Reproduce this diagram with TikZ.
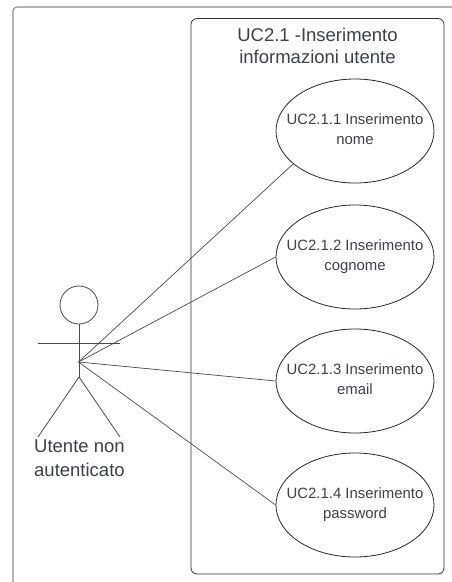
\documentclass[tikz,border=0pt]{standalone}
\usepackage{fontspec}
\setmainfont{Liberation Sans}
\usetikzlibrary{shapes.geometric}
\definecolor{ink}{HTML}{3A414A}
\definecolor{edge}{HTML}{4A4A4A}
\definecolor{frameg}{HTML}{8C8C8C}
\newcommand{\liftup}{\rule[-4pt]{0pt}{0pt}}
\tikzset{
  uc/.style={draw=black!85,line width=0.8pt,ellipse,minimum width=158pt,minimum height=104pt,inner sep=-30pt,text=ink,align=center,font=\fontsize{14.9}{20.5}\selectfont},
  link/.style={draw=edge,line width=0.7pt},
  stick/.style={draw=edge,line width=0.8pt},
}
\begin{document}
\begin{tikzpicture}[x=1pt,y=-1pt]
\useasboundingbox (0,0) rectangle (452,582);
\draw[frameg,line width=1.1pt,rounded corners=4pt] (13,582) -- (13,7) -- (452,7);
\draw[black!80,line width=0.8pt,rounded corners=6pt] (191,18.5) rectangle (444,574);
\node[text=ink,align=center,font=\fontsize{18.5}{22.5}\selectfont] (title) at (317.5,46) {UC2.1 -Inserimento\\informazioni utente};
\node[uc] (e1) at (355,131) {UC2.1.1 Inserimento\\nome\liftup};
\node[uc] (e2) at (355,257) {UC2.1.2 Inserimento\\cognome\liftup};
\node[uc] (e3) at (355,381) {UC2.1.3 Inserimento\\email\liftup};
\node[uc] (e4) at (355,505) {UC2.1.4 Inserimento\\password\liftup};
\node[draw=edge,line width=0.8pt,circle,minimum size=38pt,inner sep=0pt] (head) at (79,305) {};
\coordinate (hub) at (78.5,362);
\coordinate (hip) at (79,377);
\coordinate (armL) at (38,343);
\coordinate (armR) at (120,343);
\coordinate (footL) at (38,437);
\coordinate (footR) at (120,437);
\draw[stick] (head.south) -- (hip);
\draw[stick] (armL) -- (armR);
\draw[stick] (footL) -- (hip) -- (footR);
\node[text=ink,align=left,anchor=north west,inner sep=0pt,font=\fontsize{18.5}{24}\selectfont] (lab) at (34,439.5) {Utente non\\autenticato};
\draw[link] (hub) -- (e1.208);
\draw[link] (hub) -- (e2.west);
\draw[link] (hub) -- (e3.west);
\draw[link] (hub) -- (e4.west);
\end{tikzpicture}
\end{document}
